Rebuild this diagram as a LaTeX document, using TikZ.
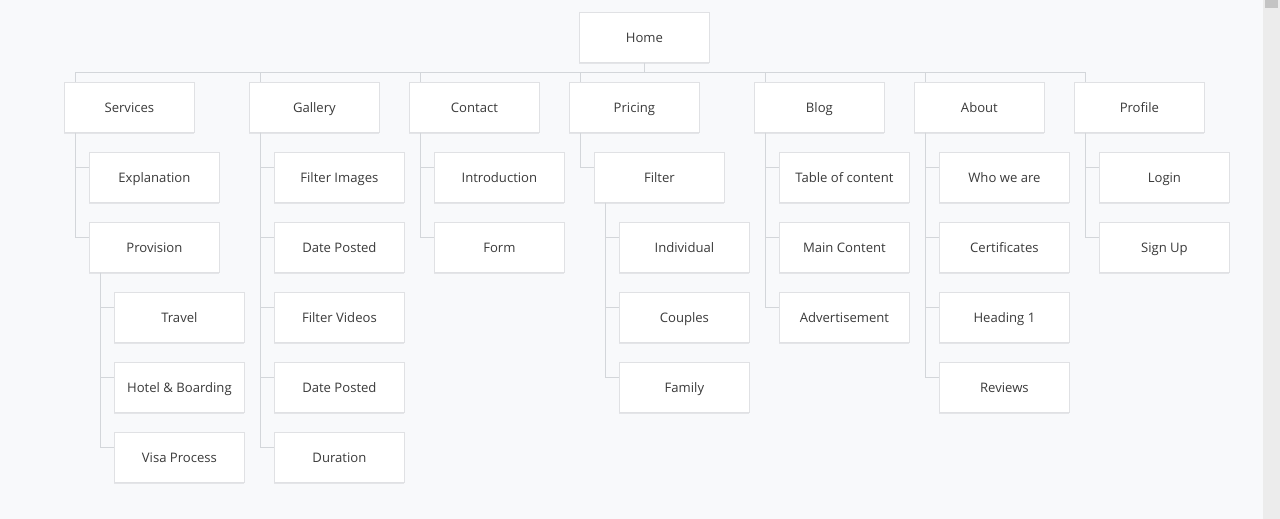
\documentclass[tikz,border=0pt]{standalone}
\usepackage{fontspec}
\setmainfont{Open Sans}
\definecolor{bg}{HTML}{F8F9FB}
\definecolor{boxline}{HTML}{E0E1E4}
\definecolor{conn}{HTML}{D3D6DA}
\definecolor{txt}{HTML}{3A3A3A}
\definecolor{shad}{HTML}{E4E5E8}
\definecolor{sbar}{HTML}{ECECEC}
\definecolor{sthumb}{HTML}{C4C4C4}
\begin{document}
\begin{tikzpicture}[x=1pt,y=-1pt,
  pagebox/.style={rectangle, draw=boxline, line width=0.8pt, fill=white,
    minimum width=130pt, minimum height=50pt, inner sep=0pt, anchor=north west,
    text=txt, font=\fontsize{13.1}{16}\selectfont, text height=13.6pt, text depth=2.8pt,
    preaction={draw=none, fill=shad, transform canvas={yshift=-1.8pt}}},
  link/.style={draw=conn, line width=0.9pt}]
\useasboundingbox (0,0) rectangle (1280,519);
\fill[bg] (0,0) rectangle (1280,519);
% scrollbar
\fill[sbar] (1263,0) rectangle (1280,519);
\fill[sthumb] (1265,0) rectangle (1278,8);

% nodes
\node[pagebox] (home) at (579,12) {Home};
\node[pagebox] (services) at (64,82) {Services};
\node[pagebox] (gallery) at (249,82) {Gallery};
\node[pagebox] (contact) at (409,82) {Contact};
\node[pagebox] (pricing) at (569,82) {Pricing};
\node[pagebox] (blog) at (754,82) {Blog};
\node[pagebox] (about) at (914,82) {About};
\node[pagebox] (profile) at (1074,82) {Profile};

\node[pagebox] (expl) at (89,152) {Explanation};
\node[pagebox] (prov) at (89,222) {Provision};
\node[pagebox] (travel) at (114,292) {Travel};
\node[pagebox] (hotel) at (114,362) {Hotel \& Boarding};
\node[pagebox] (visa) at (114,432) {Visa Process};

\node[pagebox] (fimg) at (274,152) {Filter Images};
\node[pagebox] (dp1) at (274,222) {Date Posted};
\node[pagebox] (fvid) at (274,292) {Filter Videos};
\node[pagebox] (dp2) at (274,362) {Date Posted};
\node[pagebox] (dur) at (274,432) {Duration};

\node[pagebox] (intro) at (434,152) {Introduction};
\node[pagebox] (form) at (434,222) {Form};

\node[pagebox] (filter) at (594,152) {Filter};
\node[pagebox] (indiv) at (619,222) {Individual};
\node[pagebox] (couples) at (619,292) {Couples};
\node[pagebox] (family) at (619,362) {Family};

\node[pagebox] (toc) at (779,152) {Table of content};
\node[pagebox] (main) at (779,222) {Main Content};
\node[pagebox] (adv) at (779,292) {Advertisement};

\node[pagebox] (who) at (939,152) {Who we are};
\node[pagebox] (cert) at (939,222) {Certificates};
\node[pagebox] (head) at (939,292) {Heading 1};
\node[pagebox] (rev) at (939,362) {Reviews};

\node[pagebox] (login) at (1099,152) {Login};
\node[pagebox] (signup) at (1099,222) {Sign Up};

% connectors
\draw[link] (home.south) -- ++(0,10) coordinate (bus);
\foreach \t in {services,gallery,contact,pricing,blog,about,profile}
  \draw[link] ([xshift=11pt]\t.north west) |- (bus);

\foreach \p/\c in {services/expl, services/prov, prov/travel, prov/hotel, prov/visa,
    gallery/fimg, gallery/dp1, gallery/fvid, gallery/dp2, gallery/dur,
    contact/intro, contact/form, pricing/filter,
    filter/indiv, filter/couples, filter/family,
    blog/toc, blog/main, blog/adv,
    about/who, about/cert, about/head, about/rev,
    profile/login, profile/signup}
  \draw[link] ([xshift=11pt]\p.south west) |- ([yshift=-15pt]\c.north west);
\end{tikzpicture}
\end{document}
